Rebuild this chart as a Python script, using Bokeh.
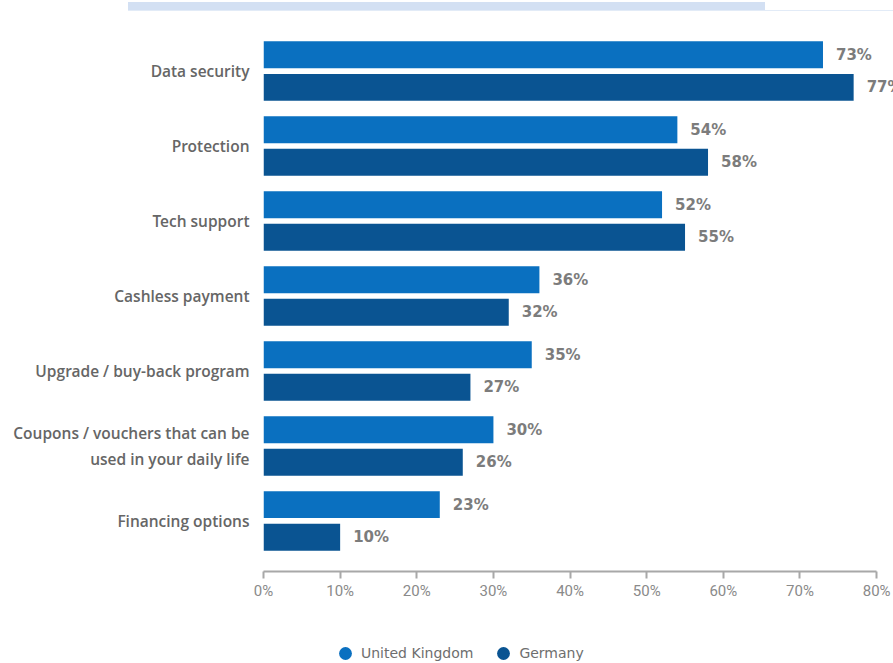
from bokeh.plotting import figure
from bokeh.models import (FactorRange, ColumnDataSource, LabelSet, Legend, LegendItem,
                          FixedTicker, CustomJSTickFormatter, Div)
from bokeh.layouts import column
from bokeh.transform import dodge
from bokeh.core.properties import value
from bokeh.embed import file_html
from bokeh.resources import INLINE

categories = ["Data security", "Protection", "Tech support", "Cashless payment",
              "Upgrade / buy-back program",
              "Coupons / vouchers that can be\nused in your daily life",
              "Financing options"]
uk = [73, 54, 52, 36, 35, 30, 23]
germany = [77, 58, 55, 32, 27, 26, 10]
series = ["United Kingdom", "Germany"]
x_ticks = [0, 10, 20, 30, 40, 50, 60, 70, 80]

UK_COLOR = "#0a70c0"
DE_COLOR = "#0a5492"

source = ColumnDataSource(dict(
    cat=categories, uk=uk, de=germany,
    uk_lab=[f"{v}%" for v in uk], de_lab=[f"{v}%" for v in germany],
))

# top decorative band (cropped header of the original page)
band = Div(width=893, height=10, margin=0,
           text='<div style="position:relative;width:893px;height:10px;">'
                '<div style="position:absolute;left:128px;top:0;width:637px;height:8px;background:#d3e0f3;"></div>'
                '<div style="position:absolute;left:128px;top:8px;width:765px;height:2px;background:#d9e4f4;"></div>'
                '</div>')

y_range = FactorRange(factors=list(reversed(categories)),
                      range_padding=0.175, range_padding_units="absolute")

p = figure(width=893, height=600, y_range=y_range, x_range=(0, 82.2),
           output_backend="svg", toolbar_location=None,
           min_border_left=263, min_border_right=0,
           min_border_top=10, min_border_bottom=39, margin=0)
p.outline_line_color = None
p.grid.grid_line_color = None
p.background_fill_color = "white"
p.border_fill_color = "white"

OFF = 0.217
H = 0.36
p.hbar(y=dodge("cat", OFF, range=p.y_range), right="uk", left=0, height=H,
       source=source, fill_color=UK_COLOR, line_color=None)
p.hbar(y=dodge("cat", -OFF, range=p.y_range), right="de", left=0, height=H,
       source=source, fill_color=DE_COLOR, line_color=None)

lab_kw = dict(x_offset=13, text_baseline="middle", text_align="left",
              text_font=value("DejaVu Sans"), text_font_style="bold",
              text_font_size="15px", text_color="#7c7c7c")
p.add_layout(LabelSet(x="uk", y=dodge("cat", OFF, range=p.y_range), text="uk_lab",
                      source=source, **lab_kw))
p.add_layout(LabelSet(x="de", y=dodge("cat", -OFF, range=p.y_range), text="de_lab",
                      source=source, **lab_kw))

# x axis
xa = p.xaxis[0]
xa.ticker = FixedTicker(ticks=x_ticks)
xa.bounds = (0, 80)
xa.formatter = CustomJSTickFormatter(code="return tick + '%';")
xa.axis_line_color = "#a8a8a8"
xa.axis_line_width = 2
xa.major_tick_line_color = "#a8a8a8"
xa.major_tick_line_width = 2
xa.major_tick_out = 7
xa.major_tick_in = 0
xa.minor_tick_line_color = None
xa.major_label_text_font = "Roboto"
xa.major_label_text_font_size = "15px"
xa.major_label_text_color = "#8a8a8a"
xa.major_label_standoff = 3

# y axis
ya = p.yaxis[0]
ya.axis_line_color = None
ya.major_tick_line_color = None
ya.minor_tick_line_color = None
ya.major_label_text_font = "Open Sans SemiBold"
ya.major_label_text_font_size = "15.5px"
ya.major_label_text_color = "#666666"
ya.major_label_standoff = 8

# legend strip (separate figure, circle markers)
leg = figure(width=893, height=53, output_backend="svg", toolbar_location=None,
             x_range=(0, 1), y_range=(0, 1),
             min_border=0, margin=0, x_axis_location=None, y_axis_location=None)
leg.outline_line_color = None
leg.grid.grid_line_color = None
leg.border_fill_color = "white"
nan = float("nan")
d_uk = leg.scatter(x=[nan], y=[nan], marker="circle", size=13,
                   fill_color=UK_COLOR, line_color=None)
d_de = leg.scatter(x=[nan], y=[nan], marker="circle", size=13,
                   fill_color=DE_COLOR, line_color=None)
legend = Legend(items=[LegendItem(label=series[0], renderers=[d_uk]),
                       LegendItem(label=series[1], renderers=[d_de])],
                orientation="horizontal", location=(66, -6),
                glyph_width=32, glyph_height=32, label_standoff=-4, spacing=14,
                padding=0, margin=0, border_line_color=None,
                background_fill_alpha=0,
                label_text_font="DejaVu Sans", label_text_font_size="14px",
                label_text_color="#6e6e6e")
leg.add_layout(legend, "center")

layout = column(band, p, leg, spacing=0, margin=0)
open("out.html", "w").write(file_html(layout, INLINE))
